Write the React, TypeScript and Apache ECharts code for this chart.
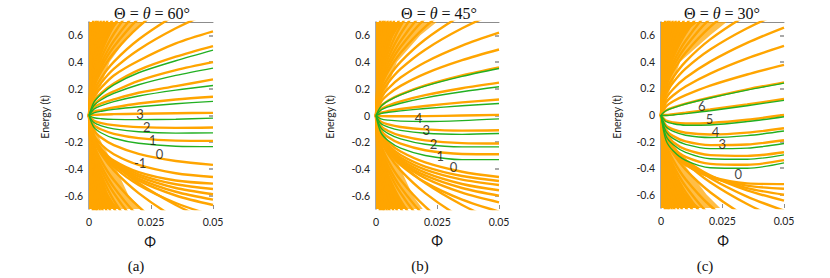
import React, { useEffect, useRef } from 'react';
import * as echarts from 'echarts';

// Sample flux values (Φ) at which every curve is read
const PHI = [0, 0.002, 0.005, 0.01, 0.02, 0.035, 0.05];

const Y_TICKS = [-0.6, -0.4, -0.2, 0, 0.2, 0.4, 0.6];
const X_TICKS = [0, 0.025, 0.05];
const ANGLES = ['60', '45', '30'];
const CAPTIONS = ['(a)', '(b)', '(c)'];

// Steep Landau-fan branches that leave through the top / bottom (shared look in all panels)
const FAN_TOP = [
  [0, 0.156, 0.246, 0.349, 0.493, 0.653, 0.78],
  [0, 0.18, 0.284, 0.402, 0.569, 0.753, 0.9],
  [0, 0.21, 0.332, 0.469, 0.664, 0.879, 1.05],
  [0, 0.23, 0.363, 0.514, 0.727, 0.963, 1.15],
  [0, 0.25, 0.395, 0.559, 0.79, 1.046, 1.25],
  [0, 0.274, 0.433, 0.612, 0.866, 1.147, 1.37],
  [0, 0.3, 0.474, 0.671, 0.948, 1.256, 1.5],
  [0, 0.33, 0.521, 0.738, 1.043, 1.381, 1.65],
  [0, 0.37, 0.585, 0.827, 1.169, 1.548, 1.85],
  [0, 0.41, 0.648, 0.916, 1.296, 1.716, 2.05],
  [0, 0.46, 0.727, 1.028, 1.454, 1.925, 2.3],
  [0, 0.53, 0.837, 1.184, 1.675, 2.216, 2.65],
  [0, 0.6, 0.948, 1.341, 1.896, 2.511, 3.0],
  [0, 0.8, 1.264, 1.788, 2.528, 3.348, 4.0],
];
const FAN_BOTTOM = [
  [0, -0.16, -0.253, -0.358, -0.506, -0.67, -0.8],
  [0, -0.184, -0.291, -0.411, -0.581, -0.77, -0.92],
  [0, -0.216, -0.341, -0.483, -0.683, -0.904, -1.08],
  [0, -0.24, -0.379, -0.536, -0.758, -1.004, -1.2],
  [0, -0.26, -0.411, -0.581, -0.822, -1.088, -1.3],
  [0, -0.284, -0.449, -0.635, -0.897, -1.189, -1.42],
  [0, -0.31, -0.49, -0.693, -0.98, -1.297, -1.55],
  [0, -0.344, -0.544, -0.769, -1.087, -1.44, -1.72],
  [0, -0.38, -0.6, -0.849, -1.201, -1.59, -1.9],
  [0, -0.43, -0.679, -0.961, -1.359, -1.8, -2.15],
  [0, -0.48, -0.758, -1.073, -1.517, -2.009, -2.4],
  [0, -0.55, -0.869, -1.229, -1.738, -2.301, -2.75],
  [0, -0.62, -0.98, -1.386, -1.959, -2.595, -3.1],
  [0, -0.84, -1.327, -1.877, -2.654, -3.515, -4.2],
];

// Panel (a) Θ = θ = 60°
const A_ORANGE = [
  [0, 0.14, 0.21, 0.3, 0.41, 0.54, 0.63],
  [0, 0.11, 0.17, 0.24, 0.34, 0.44, 0.52],
  [0, 0.08, 0.13, 0.18, 0.26, 0.34, 0.4],
  [0, 0.06, 0.09, 0.12, 0.17, 0.22, 0.27],
  [0, 0.03, 0.04, 0.06, 0.09, 0.12, 0.14],
  [0, 0.005, 0.008, 0.01, 0.013, 0.017, 0.02],
  [0, -0.039, -0.057, -0.072, -0.087, -0.093, -0.09],
  [0, -0.072, -0.105, -0.137, -0.169, -0.188, -0.19],
  [0, -0.111, -0.167, -0.222, -0.287, -0.341, -0.37],
  [0, -0.146, -0.219, -0.29, -0.37, -0.432, -0.46],
  [0, -0.172, -0.256, -0.337, -0.424, -0.487, -0.51],
  [0, -0.174, -0.26, -0.345, -0.44, -0.515, -0.55],
  [0, -0.176, -0.264, -0.353, -0.456, -0.543, -0.59],
  [0, -0.177, -0.268, -0.361, -0.472, -0.571, -0.63],
  [0, -0.179, -0.272, -0.369, -0.488, -0.599, -0.67],
  [0, -0.182, -0.28, -0.385, -0.52, -0.655, -0.75],
];
const A_GREEN = [
  [0, 0.1, 0.16, 0.23, 0.32, 0.41, 0.49],
  [0, 0.075, 0.118, 0.165, 0.23, 0.3, 0.355],
  [0, 0.048, 0.074, 0.104, 0.146, 0.19, 0.225],
  [0, 0.02, 0.032, 0.046, 0.065, 0.088, 0.106],
  [0, -0.017, -0.024, -0.029, -0.031, -0.028, -0.02],
  [0, -0.053, -0.078, -0.1, -0.122, -0.132, -0.13],
  [0, -0.089, -0.131, -0.17, -0.208, -0.23, -0.233],
];
const A_DENSE = [
  [0, 0.7], [0.012, 0.7], [0.0095, 0.65], [0.0072, 0.58], [0.005, 0.46], [0.0031, 0.32],
  [0.0015, 0.17], [0.0004, 0.05], [0, 0], [0.0004, -0.05], [0.0016, -0.17], [0.0033, -0.32],
  [0.0052, -0.46], [0.0075, -0.58], [0.0098, -0.65], [0.012, -0.7], [0, -0.7],
];
const A_SPECKLE = [
  [0, 0.7], [0.0218, 0.7], [0.016, 0.6], [0.0083, 0.4], [0.0044, 0.2], [0, 0],
  [0.005, -0.2], [0.011, -0.4], [0.016, -0.6], [0.0215, -0.7], [0, -0.7],
];
const A_LABELS = [
  [0.0206, 0.013, '3'], [0.0233, -0.089, '2'], [0.0257, -0.185, '1'],
  [0.0284, -0.291, '0'], [0.0206, -0.359, '-1'],
];

// Panel (b) Θ = θ = 45°
const B_ORANGE = [
  [0, 0.13, 0.202, 0.284, 0.399, 0.523, 0.62],
  [0, 0.1, 0.158, 0.222, 0.314, 0.414, 0.494],
  [0, 0.07, 0.112, 0.158, 0.225, 0.3, 0.36],
  [0, 0.047, 0.074, 0.106, 0.152, 0.204, 0.246],
  [0, 0.021, 0.034, 0.049, 0.071, 0.098, 0.12],
  [0, -0.005, -0.006, -0.006, -0.005, 0, 0.005],
  [0, -0.046, -0.067, -0.086, -0.104, -0.113, -0.11],
  [0, -0.079, -0.116, -0.151, -0.186, -0.207, -0.21],
  [0, -0.111, -0.163, -0.211, -0.26, -0.288, -0.29],
  [0, -0.134, -0.202, -0.27, -0.351, -0.421, -0.46],
  [0, -0.148, -0.222, -0.296, -0.382, -0.453, -0.49],
  [0, -0.157, -0.236, -0.314, -0.405, -0.48, -0.52],
  [0, -0.163, -0.246, -0.329, -0.428, -0.513, -0.56],
  [0, -0.168, -0.254, -0.342, -0.449, -0.543, -0.6],
  [0, -0.17, -0.259, -0.352, -0.469, -0.578, -0.65],
  [0, -0.176, -0.271, -0.371, -0.501, -0.63, -0.72],
];
const B_GREEN = [
  [0, 0.068, 0.109, 0.154, 0.22, 0.293, 0.352],
  [0, 0.041, 0.065, 0.092, 0.132, 0.178, 0.215],
  [0, 0.015, 0.024, 0.035, 0.052, 0.073, 0.09],
  [0, -0.025, -0.035, -0.042, -0.045, -0.038, -0.025],
  [0, -0.06, -0.087, -0.111, -0.133, -0.141, -0.135],
  [0, -0.093, -0.135, -0.175, -0.215, -0.235, -0.235],
  [0, -0.128, -0.189, -0.244, -0.299, -0.33, -0.33],
];
const B_DENSE = [
  [0, 0.7], [0.011, 0.7], [0.0088, 0.65], [0.0066, 0.58], [0.0045, 0.46], [0.0028, 0.32],
  [0.0013, 0.17], [0.0004, 0.05], [0, 0], [0.0004, -0.05], [0.0016, -0.17], [0.0034, -0.32],
  [0.0055, -0.46], [0.008, -0.58], [0.0105, -0.65], [0.013, -0.7], [0, -0.7],
];
const B_SPECKLE = [
  [0, 0.7], [0.0247, 0.7], [0.018, 0.6], [0.0085, 0.4], [0.0045, 0.2], [0, 0],
  [0.005, -0.2], [0.01, -0.4], [0.015, -0.6], [0.019, -0.7], [0, -0.7],
];
const B_LABELS = [
  [0.0173, -0.02, '4'], [0.0204, -0.109, '3'], [0.0234, -0.21, '2'],
  [0.0261, -0.3, '1'], [0.0315, -0.387, '0'],
];

// Panel (c) Θ = θ = 30°
const C_ORANGE = [
  [0, 0.122, 0.196, 0.28, 0.402, 0.543, 0.658],
  [0, 0.093, 0.149, 0.215, 0.312, 0.426, 0.52],
  [0, 0.063, 0.103, 0.149, 0.221, 0.305, 0.377],
  [0, 0.034, 0.057, 0.086, 0.132, 0.193, 0.246],
  [0, 0, 0.006, 0.017, 0.041, 0.08, 0.12],
  [0, -0.042, -0.056, -0.064, -0.06, -0.036, 0],
  [0, -0.078, -0.109, -0.134, -0.147, -0.133, -0.1],
  [0, -0.112, -0.159, -0.199, -0.227, -0.222, -0.19],
  [0, -0.142, -0.205, -0.259, -0.302, -0.308, -0.28],
  [0, -0.174, -0.25, -0.315, -0.368, -0.375, -0.34],
  [0, -0.197, -0.29, -0.376, -0.463, -0.515, -0.52],
  [0, -0.19, -0.282, -0.37, -0.466, -0.532, -0.555],
  [0, -0.176, -0.265, -0.355, -0.46, -0.55, -0.6],
  [0, -0.162, -0.249, -0.339, -0.455, -0.567, -0.645],
  [0, -0.157, -0.245, -0.342, -0.474, -0.614, -0.72],
];
const C_GREEN = [
  [0, 0.032, 0.054, 0.083, 0.128, 0.187, 0.24],
  [0, -0.004, 0, 0.01, 0.032, 0.07, 0.11],
  [0, -0.049, -0.066, -0.077, -0.075, -0.05, -0.013],
  [0, -0.088, -0.124, -0.152, -0.169, -0.155, -0.12],
  [0, -0.124, -0.178, -0.221, -0.253, -0.249, -0.215],
  [0, -0.156, -0.224, -0.282, -0.329, -0.333, -0.3],
  [0, -0.189, -0.271, -0.341, -0.397, -0.401, -0.36],
];
const C_DENSE = [
  [0, 0.7], [0.015, 0.7], [0.0115, 0.65], [0.0085, 0.58], [0.0055, 0.46], [0.0032, 0.32],
  [0.0014, 0.17], [0.0004, 0.05], [0, 0], [0.0004, -0.05], [0.0018, -0.17], [0.0038, -0.32],
  [0.0065, -0.46], [0.0095, -0.58], [0.0125, -0.65], [0.016, -0.7], [0, -0.7],
];
const C_SPECKLE = [
  [0, 0.7], [0.0267, 0.7], [0.02, 0.6], [0.0078, 0.4], [0.0038, 0.2], [0, 0],
  [0.005, -0.2], [0.0105, -0.4], [0.0186, -0.6], [0.024, -0.7], [0, -0.7],
];
const C_LABELS = [
  [0.0166, 0.068, '6'], [0.0197, -0.033, '5'], [0.0222, -0.127, '4'],
  [0.0249, -0.215, '3'], [0.0314, -0.443, '0'],
];

// ---- layout & style (not data) ----
const ORANGE = '#FFA500';
const SPECKLE_FILL = 'rgba(255,165,0,0.72)';
const GREEN = '#22b022';
const GRAY = '#8c8c8c';
const SANS = 'Lato, "Open Sans", sans-serif';
const SERIF = '"Liberation Serif", "DejaVu Serif", serif';
const GRIDS = [
  { left: 89, top: 22, width: 124, height: 187 },
  { left: 376, top: 22, width: 123, height: 187 },
  { left: 661, top: 22, width: 123, height: 186 },
];
const TITLE_POS = [[152, 13], [439, 13], [722, 13]];
const PHI_POS = [[150, 241], [437, 240], [723, 240]];
const ENERGY_POS = [[45, 117], [330, 117], [617, 117]];
const CAPTION_POS = [[136, 266], [420, 266], [705, 266]];

export default function App() {
  const ref = useRef<HTMLDivElement>(null);
  useEffect(() => {
    if (!ref.current) return;
    const chart = echarts.init(ref.current, undefined, { renderer: 'svg' });
    const panels = [
      { orange: A_ORANGE, green: A_GREEN, dense: A_DENSE, speckle: A_SPECKLE, labels: A_LABELS },
      { orange: B_ORANGE, green: B_GREEN, dense: B_DENSE, speckle: B_SPECKLE, labels: B_LABELS },
      { orange: C_ORANGE, green: C_GREEN, dense: C_DENSE, speckle: C_SPECKLE, labels: C_LABELS },
    ];
    const series: any[] = [];
    const xAxis: any[] = [];
    const yAxis: any[] = [];
    const graphic: any[] = [];
    const mkLine = (c: number[], color: string, width: number, z: number, i: number) => ({
      type: 'line',
      xAxisIndex: i * 2,
      yAxisIndex: i * 2,
      data: PHI.map((x, k) => [x, c[k]]),
      smooth: 0.3,
      symbol: 'none',
      clip: true,
      silent: true,
      z,
      lineStyle: { color, width },
    });
    const mkArea = (pts: number[][], fill: string, z: number, i: number) => ({
      type: 'custom', xAxisIndex: i * 2, yAxisIndex: i * 2, data: pts, clip: true, silent: true, z,
      renderItem: (params: any, api: any) => {
        if (params.dataIndex !== 0) return null;
        return {
          type: 'polygon',
          shape: { points: pts.map((pt) => api.coord(pt)) },
          style: { fill },
        };
      },
    });
    panels.forEach((p, i) => {
      xAxis.push({
        type: 'value', gridIndex: i, min: 0, max: 0.05,
        axisLine: { show: false, onZero: false },
        axisTick: { show: true, inside: true, length: 4, customValues: X_TICKS, lineStyle: { color: GRAY } },
        axisLabel: {
          customValues: X_TICKS, fontSize: 10.5, fontFamily: SANS, color: '#222', margin: 7,
          formatter: (v: number) => (v === 0 ? '0' : String(v)),
        },
        splitLine: { show: false },
      });
      xAxis.push({
        type: 'value', gridIndex: i, position: 'top', min: 0, max: 0.05,
        axisLine: { show: true, onZero: false, lineStyle: { color: GRAY, width: 1 } },
        axisTick: { show: false }, axisLabel: { show: false }, splitLine: { show: false },
      });
      yAxis.push({
        type: 'value', gridIndex: i, min: -0.7, max: 0.7,
        axisLine: { show: true, onZero: false, lineStyle: { color: GRAY, width: 1.5 } },
        axisTick: { show: false },
        axisLabel: {
          customValues: Y_TICKS, fontSize: 10.5, fontFamily: SANS, color: '#222', margin: 6,
          formatter: (v: number) => (Math.abs(v) < 1e-9 ? '0' : v.toFixed(1)),
        },
        splitLine: { show: false },
      });
      yAxis.push({
        type: 'value', gridIndex: i, position: 'right', min: -0.7, max: 0.7,
        axisLine: { show: false, onZero: false },
        axisTick: { show: true, inside: true, length: 4, customValues: Y_TICKS, lineStyle: { color: GRAY, width: 1.5 } },
        axisLabel: { show: false }, splitLine: { show: false },
      });
      series.push(mkArea(p.speckle, SPECKLE_FILL, 1, i));
      series.push(mkArea(p.dense, ORANGE, 2, i));
      [...FAN_TOP, ...FAN_BOTTOM, ...p.orange].forEach((c) => series.push(mkLine(c, ORANGE, 2.4, 3, i)));
      p.green.forEach((c) => series.push(mkLine(c, GREEN, 1.4, 4, i)));
      series.push({
        type: 'scatter', xAxisIndex: i * 2, yAxisIndex: i * 2, silent: true, z: 6,
        data: p.labels.map((l) => [l[0], l[1], l[2]]),
        symbolSize: 1, itemStyle: { color: 'rgba(0,0,0,0)' },
        label: {
          show: true, position: 'inside', fontSize: 13, fontFamily: SANS, color: '#111',
          formatter: (d: any) => d.value[2],
        },
      });
      graphic.push({
        type: 'text', x: TITLE_POS[i][0], y: TITLE_POS[i][1],
        style: {
          text: `{n|Θ = }{t|θ}{n| = ${ANGLES[i]}°}`,
          align: 'center', verticalAlign: 'middle',
          rich: {
            n: { fontFamily: SERIF, fontSize: 16, fill: '#111' },
            t: { fontFamily: SERIF, fontSize: 16, fontStyle: 'italic', fill: '#111' },
          },
        },
      });
      graphic.push({
        type: 'text', x: PHI_POS[i][0], y: PHI_POS[i][1],
        style: { text: 'Φ', fontFamily: SANS, fontSize: 14, fill: '#111', align: 'center', verticalAlign: 'middle' },
      });
      graphic.push({
        type: 'text', x: ENERGY_POS[i][0], y: ENERGY_POS[i][1], rotation: Math.PI / 2,
        style: { text: 'Energy (t)', fontFamily: SANS, fontSize: 10.5, fill: '#222', align: 'center', verticalAlign: 'middle' },
      });
      graphic.push({
        type: 'text', x: CAPTION_POS[i][0], y: CAPTION_POS[i][1],
        style: { text: CAPTIONS[i], fontFamily: SERIF, fontSize: 15, fill: '#111', align: 'center', verticalAlign: 'middle' },
      });
    });
    chart.setOption({
      animation: false,
      backgroundColor: '#ffffff',
      grid: GRIDS.map((g) => ({ ...g, containLabel: false })),
      xAxis,
      yAxis,
      series,
      graphic,
    });
    return () => chart.dispose();
  }, []);
  return <div ref={ref} style={{ position: 'absolute', left: 0, top: 0, width: 830, height: 278 }} />;
}
